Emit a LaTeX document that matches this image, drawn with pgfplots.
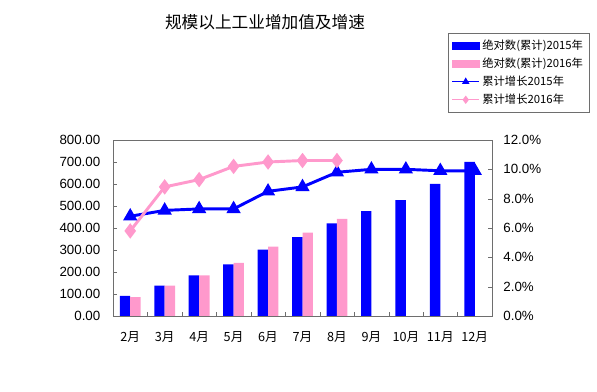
\documentclass[border=0pt]{standalone}
\usepackage{pgfplots}
\pgfplotsset{compat=1.18}
\usepackage{fontspec}
\setmainfont{Liberation Sans}
\newfontfamily\cjk{Noto Sans CJK SC}
\definecolor{myblue}{RGB}{0,0,255}
\definecolor{mypink}{RGB}{255,153,204}
\definecolor{framegray}{RGB}{110,110,110}
\begin{document}
\begin{tikzpicture}
\useasboundingbox (0,0) rectangle (447.75pt,294pt);
\node[font=\cjk\fontsize{12.5}{14}\selectfont] at (198.75pt,277.5pt) {规模以上工业增加值及增速};
\begin{axis}[
  at={(84.75pt,57pt)}, anchor=south west,
  scale only axis, width=284.25pt, height=132pt,
  xmin=-0.5, xmax=10.5, ymin=0, ymax=800,
  axis line style={framegray},
  xtick={0,...,10},
  xticklabels={2月,3月,4月,5月,6月,7月,8月,9月,10月,11月,12月},
  major x tick style={draw=none},
  minor xtick={0.5,1.5,...,9.5},
  minor tick length=3pt,
  major tick length=3pt,
  tick style={framegray},
  xtick pos=bottom, ytick pos=left,
  ytick={0,100,...,800},
  tick label style={font=\fontsize{10}{12}\selectfont},
  xticklabel style={font=\cjk\fontsize{9.5}{11}\selectfont, yshift=-8pt},
  yticklabel style={xshift=-6pt, /pgf/number format/.cd, fixed, fixed zerofill, precision=2, assume math mode=true},
]
\addplot[ybar, bar width=7.8pt, bar shift=-3.9pt, fill=myblue, draw=none]
  coordinates {(0,91) (1,138) (2,185) (3,235) (4,302) (5,359) (6,421) (7,477) (8,527) (9,601) (10,701)};
\addplot[ybar, bar width=7.8pt, bar shift=3.9pt, fill=mypink, draw=none]
  coordinates {(0,86) (1,138) (2,185) (3,241) (4,315) (5,379) (6,442)};
\end{axis}
\begin{axis}[
  at={(84.75pt,57pt)}, anchor=south west,
  scale only axis, width=284.25pt, height=132pt,
  xmin=-0.5, xmax=10.5, ymin=0, ymax=12,
  axis y line*=right, axis x line=none,
  axis line style={framegray},
  tick style={framegray},
  major tick length=3pt,
  ytick={0,2,...,12},
  yticklabel={\pgfmathprintnumber[fixed,fixed zerofill,precision=1,assume math mode=true]{\tick}\%},
  tick label style={font=\fontsize{10}{12}\selectfont},
  yticklabel style={xshift=5pt},
  legend style={at={(1.2586,1.608)}, anchor=north east, draw=framegray,
    font=\cjk\fontsize{8.5}{10}\selectfont, row sep=0.8pt, inner sep=3pt},
  legend cell align=left,
  legend image code/.code={\draw[mark repeat=2,mark phase=2,#1] plot coordinates {(0pt,0pt) (10pt,0pt) (20pt,0pt)};},
]
\addplot[myblue, line width=2.2pt, mark=triangle*, mark size=4pt, forget plot]
  coordinates {(0,6.8) (1,7.2) (2,7.3) (3,7.3) (4,8.5) (5,8.8) (6,9.8) (7,10.0) (8,10.0) (9,9.9) (10,9.9)};
\addplot[mypink, line width=2.2pt, mark=diamond*, mark size=4pt, forget plot]
  coordinates {(0,5.8) (1,8.8) (2,9.3) (3,10.2) (4,10.5) (5,10.6) (6,10.6)};
\addlegendimage{legend image code/.code={\fill[myblue] (0pt,-2.6pt) rectangle (20pt,2.6pt);}}
\addlegendentry{绝对数(累计)2015年}
\addlegendimage{legend image code/.code={\fill[mypink] (0pt,-2.6pt) rectangle (20pt,2.6pt);}}
\addlegendentry{绝对数(累计)2016年}
\addlegendimage{myblue, line width=0.8pt, mark=triangle*, mark size=2.5pt}
\addlegendentry{累计增长2015年}
\addlegendimage{mypink, line width=0.8pt, mark=diamond*, mark size=2.5pt}
\addlegendentry{累计增长2016年}
\end{axis}
\end{tikzpicture}
\end{document}
